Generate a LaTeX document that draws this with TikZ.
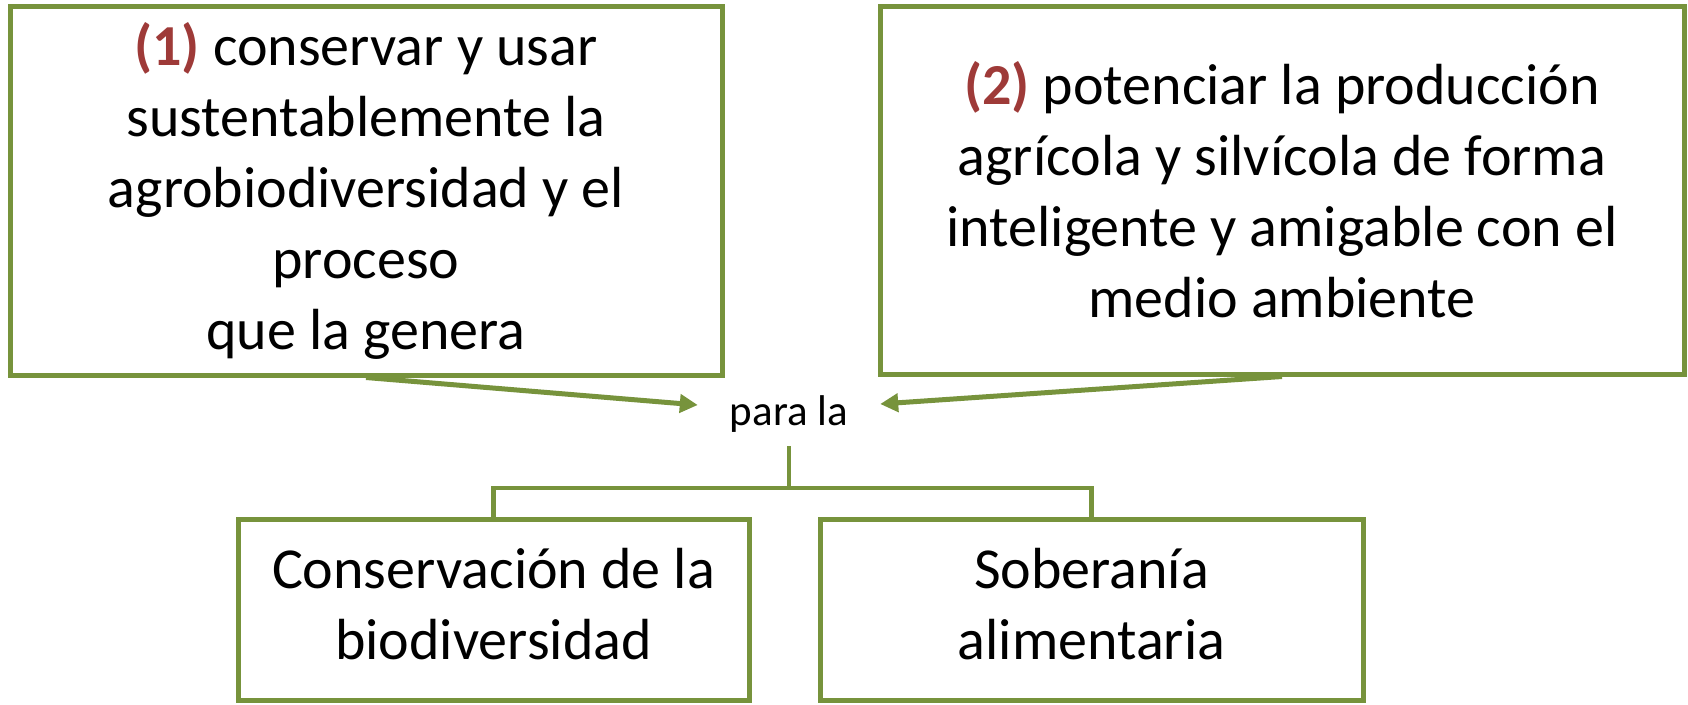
\documentclass[tikz,border=0pt]{standalone}
\usepackage{fontspec}
\setmainfont{Carlito}
\usetikzlibrary{arrows.meta}
\definecolor{boxgreen}{HTML}{77933C}
\definecolor{numred}{HTML}{9E3A38}
\tikzset{
  greenbox/.style={draw=boxgreen, line width=5pt, fill=white, align=center, inner sep=0pt,
    font=\fontsize{58}{71}\selectfont},
  conn/.style={draw=boxgreen, line width=4.5pt},
  arr/.style={draw=boxgreen, line width=5pt, -{Triangle[length=18pt,width=18pt]}}
}
\newcommand{\numlab}[1]{{\color{numred}\bfseries #1}}
\newcommand{\lowtext}[1]{\raisebox{-5pt}{\begin{tabular}{@{}c@{}}#1\end{tabular}}}
\begin{document}
\begin{tikzpicture}[x=1pt,y=-1pt]
\useasboundingbox (0,0) rectangle (1688,704);
\fill[white] (0,0) rectangle (1688,704);
\node[greenbox, minimum width=712pt, minimum height=369pt] (b1) at (366,190.5)
  {\numlab{(1)} conservar y usar\\sustentablemente la\\agrobiodiversidad y el\\proceso\\que la genera};
\node[greenbox, minimum width=804pt, minimum height=368pt] (b2) at (1282,190)
  {\numlab{(2)} potenciar la producción\\agrícola y silvícola de forma\\inteligente y amigable con el\\medio ambiente};
\node[inner sep=0pt, minimum width=182pt, minimum height=64pt, font=\fontsize{43}{50}\selectfont] (para) at (789,414) {para la};
\node[greenbox, minimum width=511pt, minimum height=181pt] (b3) at (493.5,609.5)
  {\lowtext{Conservación de la\\biodiversidad}};
\node[greenbox, minimum width=543pt, minimum height=181pt] (b4) at (1091.5,609.5)
  {\lowtext{Soberanía\\alimentaria}};
\coordinate (mid) at (789,488);
\draw[arr] (b1.south) -- ([yshift=9pt]para.west);
\draw[arr] (b2.south) -- ([yshift=10pt]para.east);
\draw[conn] (para.south) -- (mid);
\draw[conn] (b3.north) |- (mid) -| (b4.north);
\end{tikzpicture}
\end{document}
